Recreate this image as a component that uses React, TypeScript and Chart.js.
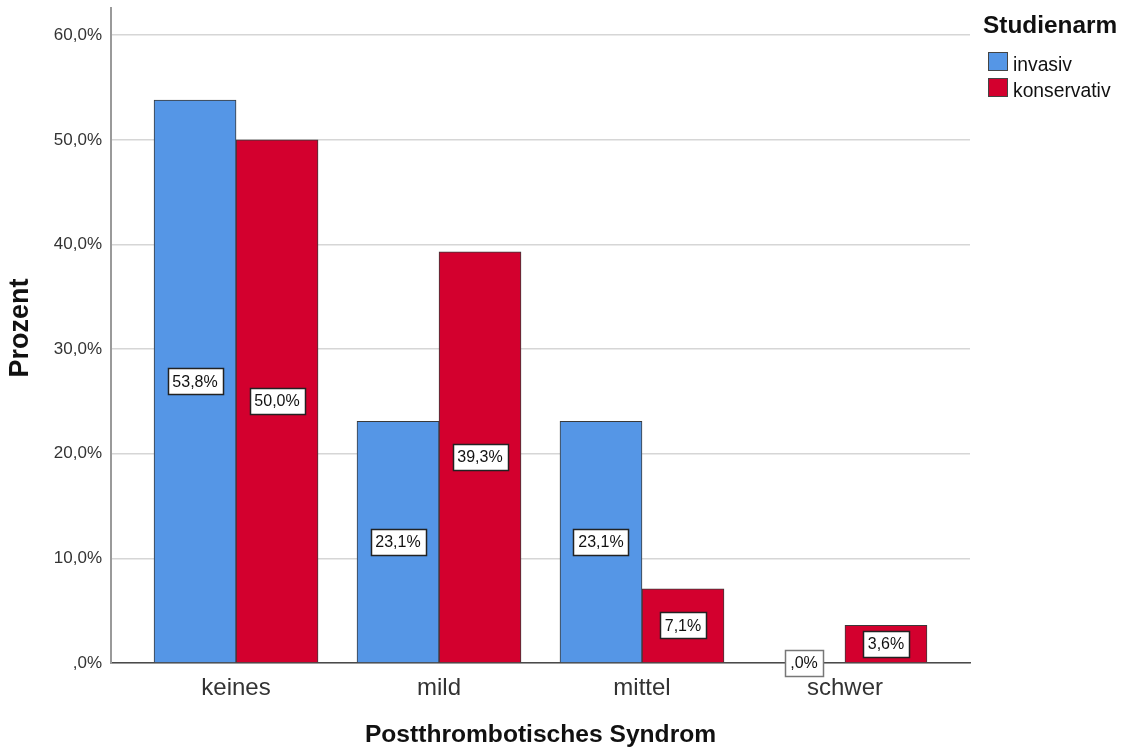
import React, { useEffect, useRef } from 'react';
import { Chart, registerables } from 'chart.js';

Chart.register(...registerables);

const categories = ['keines', 'mild', 'mittel', 'schwer'];
const seriesNames = ['invasiv', 'konservativ'];
const invasiv = [53.8, 23.1, 23.1, 0.0];
const konservativ = [50.0, 39.3, 7.1, 3.6];
const yTickValues = [0, 10, 20, 30, 40, 50, 60];
const xTitle = 'Postthrombotisches Syndrom';
const yTitle = 'Prozent';
const legendTitle = 'Studienarm';
const seriesColors = ['#5596e6', '#d3002e'];

const FONT = '"Liberation Sans", Arial, sans-serif';

const fmt = (v: number) => {
  const s = v.toFixed(1).replace('.', ',');
  return (s.startsWith('0') ? s.slice(1) : s) + '%';
};

const decor = {
  id: 'decor',
  afterDatasetsDraw(chart: any) {
    const ctx = chart.ctx;
    ctx.save();
    ctx.font = `16px ${FONT}`;
    ctx.textAlign = 'center';
    ctx.textBaseline = 'middle';
    chart.data.datasets.forEach((ds: any, di: number) => {
      const meta = chart.getDatasetMeta(di);
      meta.data.forEach((el: any, i: number) => {
        const v = ds.data[i].y;
        const t = fmt(v);
        const w = Math.round(ctx.measureText(t).width + 10);
        const h = 26;
        const cx = el.x;
        const cy = (el.y + el.base) / 2;
        const x0 = Math.round(cx - w / 2) + 0.5;
        const y0 = Math.round(cy - h / 2) + 0.5;
        ctx.fillStyle = '#ffffff';
        ctx.fillRect(x0, y0, w, h);
        ctx.lineWidth = 1.5;
        ctx.strokeStyle = v === 0 ? '#777777' : '#222222';
        ctx.strokeRect(x0, y0, w, h);
        ctx.fillStyle = '#111111';
        ctx.fillText(t, cx, cy + 1);
      });
    });
    ctx.restore();
  },
  afterDraw(chart: any) {
    const ctx = chart.ctx;
    const area = chart.chartArea;
    ctx.save();
    ctx.fillStyle = '#111111';
    // x title
    ctx.font = `bold 24.6px ${FONT}`;
    ctx.textAlign = 'center';
    ctx.textBaseline = 'alphabetic';
    ctx.fillText(xTitle, (area.left + area.right) / 2, 742);
    // y title
    ctx.save();
    ctx.translate(28, 328);
    ctx.rotate(-Math.PI / 2);
    ctx.font = `bold 27px ${FONT}`;
    ctx.fillText(yTitle, 0, 0);
    ctx.restore();
    // legend
    ctx.textAlign = 'left';
    ctx.font = `bold 24.4px ${FONT}`;
    ctx.fillText(legendTitle, 983, 33);
    ctx.font = `19.3px ${FONT}`;
    seriesNames.forEach((name, i) => {
      const by = 52 + i * 26;
      ctx.fillStyle = seriesColors[i];
      ctx.fillRect(988.5, by + 0.5, 19, 18);
      ctx.strokeStyle = '#444444';
      ctx.lineWidth = 1;
      ctx.strokeRect(988.5, by + 0.5, 19, 18);
      ctx.fillStyle = '#111111';
      ctx.fillText(name, 1013, by + 19);
    });
    ctx.restore();
  },
};

export default function App() {
  const ref = useRef<HTMLCanvasElement | null>(null);
  useEffect(() => {
    if (!ref.current) return;
    const chart = new Chart(ref.current, {
      type: 'bar',
      data: {
        datasets: [invasiv, konservativ].map((vals, si) => ({
          label: seriesNames[si],
          data: vals.map((v, i) => ({ x: i, y: v })),
          backgroundColor: seriesColors[si],
          borderColor: '#3a3a3a',
          borderWidth: 1,
          barThickness: 82,
        })),
      },
      options: {
        animation: false,
        responsive: true,
        maintainAspectRatio: false,
        layout: { padding: { left: 0, top: 8, right: 152, bottom: 0 } },
        plugins: { legend: { display: false }, tooltip: { enabled: false } },
        scales: {
          x: {
            type: 'linear',
            min: -0.616,
            max: 3.616,
            offset: false,
            grid: { display: false, drawTicks: false, offset: false },
            border: { display: true, color: '#4a4a4a', width: 1.5 },
            afterBuildTicks: (scale: any) => {
              scale.ticks = categories.map((_, i) => ({ value: i }));
            },
            afterFit: (scale: any) => {
              scale.height = 88;
              scale.paddingLeft = 0;
              scale.paddingRight = 0;
            },
            ticks: {
              padding: 11,
              color: '#333333',
              font: { family: FONT, size: 24 },
              maxRotation: 0,
              autoSkip: false,
              callback: (v: any) => categories[v as number] ?? '',
            },
          },
          y: {
            type: 'linear',
            min: 0,
            max: 62.6,
            grid: { color: '#d6d6d6', lineWidth: 1.5, drawTicks: false },
            border: { display: true, color: '#9a9a9a', width: 2 },
            afterBuildTicks: (scale: any) => {
              scale.ticks = yTickValues.map((v) => ({ value: v }));
            },
            afterFit: (scale: any) => {
              scale.width = 111;
              scale.paddingTop = 0;
              scale.paddingBottom = 0;
            },
            ticks: {
              padding: 9,
              color: '#333333',
              font: { family: FONT, size: 17 },
              callback: (v: any) => fmt(v as number),
            },
          },
        },
      },
      plugins: [decor],
    });
    return () => chart.destroy();
  }, []);
  return (
    <div style={{ position: 'fixed', left: 0, top: 0, width: 1122, height: 751, background: '#fff' }}>
      <canvas ref={ref} />
    </div>
  );
}
